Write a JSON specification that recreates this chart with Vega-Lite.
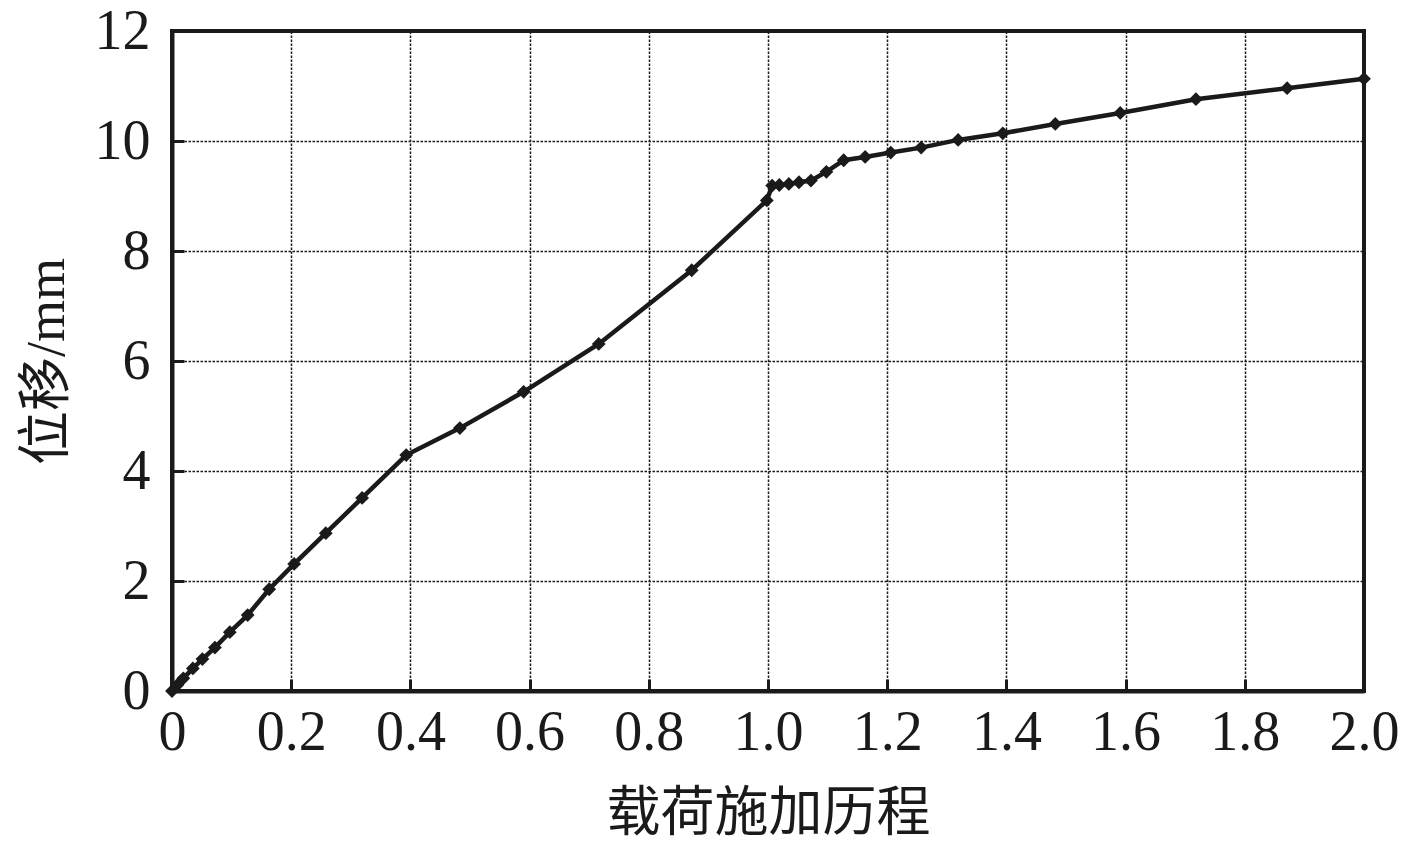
{
  "$schema": "https://vega.github.io/schema/vega-lite/v6.json",
  "width": 1192,
  "height": 660,
  "autosize": {"type": "none"},
  "padding": {"left": 172, "top": 31, "right": 53, "bottom": 150},
  "background": "white",
  "data": {"values": [
    {"x": 0, "y": 0},
    {"x": 0.009, "y": 0.11},
    {"x": 0.019, "y": 0.23},
    {"x": 0.035, "y": 0.41},
    {"x": 0.051, "y": 0.58},
    {"x": 0.072, "y": 0.79},
    {"x": 0.097, "y": 1.07},
    {"x": 0.127, "y": 1.38},
    {"x": 0.163, "y": 1.85},
    {"x": 0.205, "y": 2.31},
    {"x": 0.258, "y": 2.87},
    {"x": 0.319, "y": 3.51},
    {"x": 0.393, "y": 4.29},
    {"x": 0.483, "y": 4.78},
    {"x": 0.590, "y": 5.44},
    {"x": 0.716, "y": 6.31},
    {"x": 0.872, "y": 7.65},
    {"x": 0.998, "y": 8.92},
    {"x": 1.007, "y": 9.19},
    {"x": 1.019, "y": 9.20},
    {"x": 1.035, "y": 9.22},
    {"x": 1.052, "y": 9.25},
    {"x": 1.072, "y": 9.28},
    {"x": 1.098, "y": 9.44},
    {"x": 1.127, "y": 9.65},
    {"x": 1.163, "y": 9.71},
    {"x": 1.206, "y": 9.79},
    {"x": 1.257, "y": 9.88},
    {"x": 1.319, "y": 10.02},
    {"x": 1.394, "y": 10.14},
    {"x": 1.482, "y": 10.31},
    {"x": 1.591, "y": 10.51},
    {"x": 1.718, "y": 10.76},
    {"x": 1.871, "y": 10.96},
    {"x": 2.0, "y": 11.13}
  ]},
  "encoding": {
    "x": {
      "field": "x", "type": "quantitative",
      "scale": {"domain": [0, 2], "nice": false, "zero": false},
      "axis": {
        "title": "载荷施加历程",
        "values": [0, 0.2, 0.4, 0.6, 0.8, 1.0, 1.2, 1.4, 1.6, 1.8, 2.0],
        "labelExpr": "datum.value == 0 ? '0' : format(datum.value, '.1f')",
        "labelPadding": 26,
        "titlePadding": 27
      }
    },
    "y": {
      "field": "y", "type": "quantitative",
      "scale": {"domain": [0, 12], "nice": false},
      "axis": {
        "title": "位移/mm",
        "values": [0, 2, 4, 6, 8, 10, 12],
        "labelPadding": 34,
        "titlePadding": 20
      }
    }
  },
  "layer": [
    {"mark": {"type": "line", "color": "#1a1a1a", "strokeWidth": 4.5, "clip": false}},
    {"mark": {"type": "point", "shape": "diamond", "size": 190, "filled": true, "opacity": 1, "color": "#1a1a1a", "clip": false}}
  ],
  "config": {
    "view": {"stroke": "#1a1a1a", "strokeWidth": 4},
    "axis": {
      "domain": true,
      "domainColor": "#1a1a1a",
      "domainWidth": 4,
      "grid": true,
      "gridColor": "#1a1a1a",
      "gridWidth": 1.5,
      "gridDash": [2.5, 1.5],
      "gridOpacity": 1,
      "ticks": true,
      "tickSize": -12,
      "tickWidth": 3,
      "tickColor": "#1a1a1a",
      "labelFont": "Liberation Serif",
      "labelFontSize": 56,
      "labelColor": "#1a1a1a",
      "titleFont": "Liberation Serif, Noto Sans CJK SC",
      "titleFontSize": 54,
      "titleFontWeight": "normal",
      "titleColor": "#1a1a1a",
      "labelFlush": false,
      "labelOverlap": false
    }
  }
}
